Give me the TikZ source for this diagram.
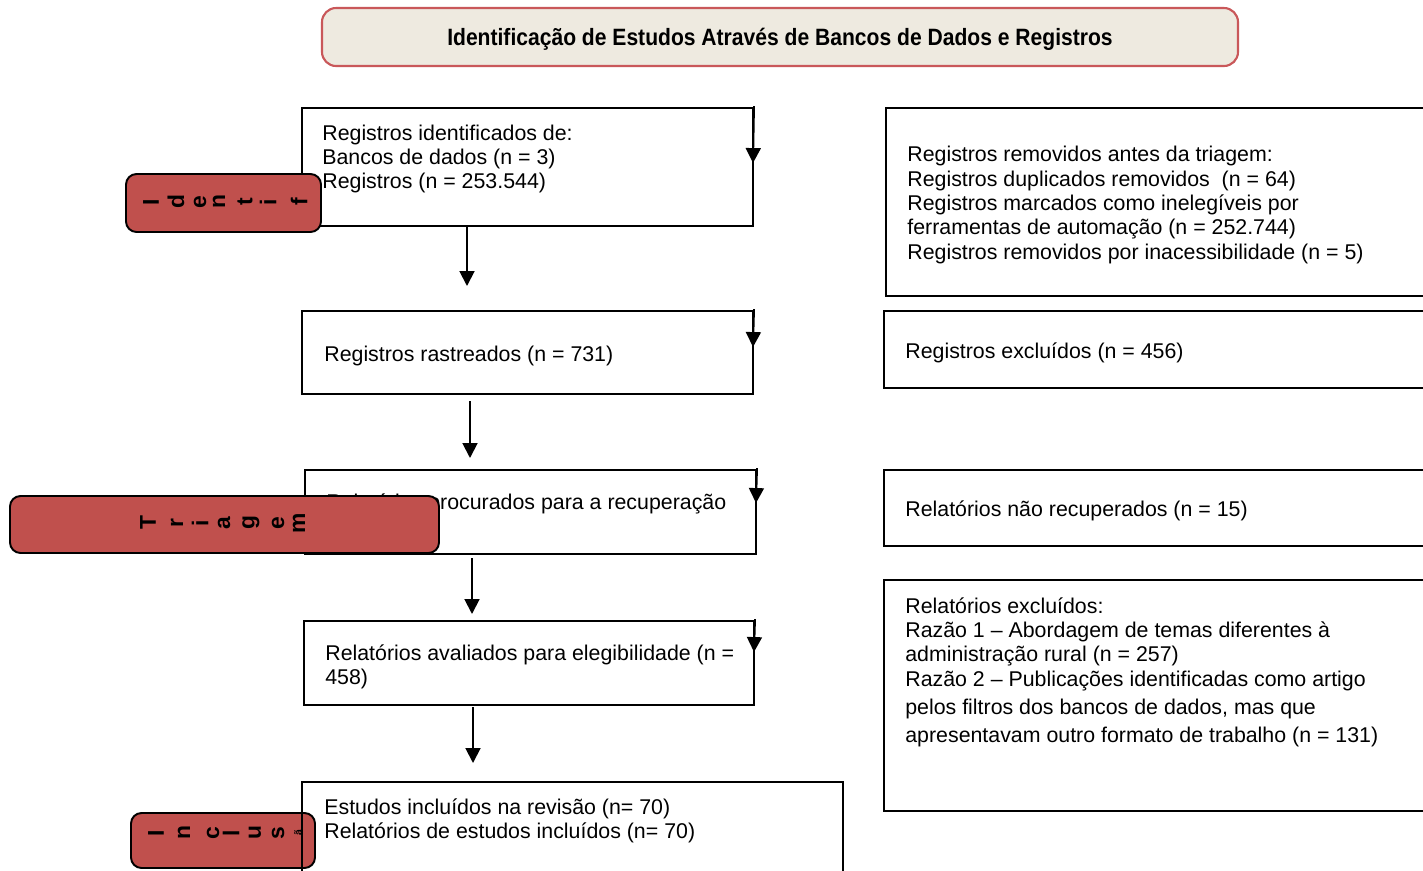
\documentclass[tikz,border=0pt]{standalone}
\usepackage{fontspec}
\setmainfont{Liberation Sans}
\usetikzlibrary{arrows.meta,fit}
\definecolor{labred}{HTML}{C0504D}
\definecolor{titlefill}{HTML}{EEEAE0}
\definecolor{titleline}{HTML}{C9585A}

\begin{document}
\begin{tikzpicture}[x=0.02cm,y=-0.02cm,>={Triangle[length=8.5pt,width=8.5pt]},line cap=rect,
  box/.style={draw,line width=1.1pt,inner sep=0},
  txt/.style={inner sep=0,anchor=west,align=left,font=\fontsize{12.15}{13.9}\selectfont},
  side/.style={draw,line width=1.1pt,fill=labred,inner sep=0,rounded corners=6pt},
  ltr/.style={inner sep=0,rotate=90,font=\fontsize{13}{15}\selectfont\bfseries},
  flow/.style={->,line width=1.1pt}]
\useasboundingbox (0,0) rectangle (1423,870);
\clip (0,0) rectangle (1423,870);
\node[draw=titleline,fill=titlefill,line width=1.2pt,rounded corners=8pt,inner sep=0,fit={(322,8) (1238,66)}] (title) {};
\node[font=\fontsize{12}{14}\selectfont\bfseries] (titletxt) at ([yshift=-0.04cm]title.center) {\scalebox{1}[1.12]{Identificação de Estudos Através de Bancos de Dados e Registros}};
\node[box,fit={(302,108) (753,226)}] (A) {};
\node[box,fit={(302,311) (753,394)}] (B) {};
\node[box,fit={(305,470) (756,554)}] (C) {};
\node[box,fit={(304,621) (754,705)}] (D) {};
\node[box,fit={(886,108) (1435,296)}] (R1) {};
\node[box,fit={(884,311) (1435,388)}] (R2) {};
\node[box,fit={(884,470) (1435,546)}] (R3) {};
\node[box,fit={(884,580) (1435,811)}] (R4) {};
\node[txt] (tA) at (322,159) {Registros identificados de:\\Bancos de dados (n = 3)\\Registros (n = 253.544)};
\node[txt] (tB) at (324,356) {Registros rastreados (n = 731)};
\node[txt] (tC) at (326,504) {Relatórios procurados para a recuperação};
\node[txt] (tD) at (325,667) {Relatórios avaliados para elegibilidade (n =\\458)};
\node[txt] (tR1) at (907,205) {Registros removidos antes da triagem:\\Registros duplicados removidos~ (n = 64)\\Registros marcados como inelegíveis por\\ferramentas de automação (n = 252.744)\\Registros removidos por inacessibilidade (n = 5)};
\node[txt] (tR2) at (905,353) {Registros excluídos (n = 456)};
\node[txt] (tR3) at (905,511) {Relatórios não recuperados (n = 15)};
\node[txt] (tR4) at (905,672) {Relatórios excluídos:\\Razão 1 -- Abordagem de temas diferentes à\\administração rural (n = 257)\\Razão 2 -- Publicações identificadas como artigo\\[2pt]pelos filtros dos bancos de dados, mas que\\[2pt]apresentavam outro formato de trabalho (n = 131)};
\coordinate (a1) at (467,286);
\coordinate (a2) at (470,458);
\coordinate (a3) at (472,614);
\coordinate (a4) at (473,763);
\coordinate (ra) at (753,163);
\coordinate (rb) at (753,347);
\coordinate (rc) at (756,503);
\coordinate (rd) at (754,652);
\draw[flow] (A.south -| a1) -- (a1);
\draw[flow] (B.south -| a2) ++(0,7) -- (a2);
\draw[flow] (C.south -| a3) ++(0,4) -- (a3);
\draw[flow] (D.south -| a4) ++(0,2) -- (a4);
\draw[flow] (A.north east) -- (ra);
\draw[flow] (B.north east) -- (rb);
\draw[flow] (C.north east) -- (rc);
\draw[flow] (D.north east) -- (rd);
\node[side,fit={(126,174) (321,232)}] (sid) {};
\foreach \c/\x [count=\i] in {I/151,d/176,e/200,n/219,t/245,i/268,f/299}
  \node[ltr] (id\i) at (\x,202) {\c};
\node[side,fit={(10,496) (439,553)}] (str) {};
\foreach \c/\x [count=\i] in {T/148,r/177,i/200,a/224,g/251,e/278,m/299}
  \node[ltr] (tr\i) at (\x,523) {\c};
\node[side,fit={(131,813) (315,868)}] (sin) {};
\foreach \c/\x [count=\i] in {I/156,n/184,c/213,l/231,u/255,s/278}
  \node[ltr] (in\i) at (\x,833) {\c};
\node[ltr,font=\fontsize{6}{7}\selectfont\bfseries] (in7) at (298,833) {ã};
\node[box,fit={(302,782) (843,890)}] (E) {};
\node[txt] (tE) at (324,821) {Estudos incluídos na revisão (n= 70)\\Relatórios de estudos incluídos (n= 70)};
\end{tikzpicture}
\end{document}
